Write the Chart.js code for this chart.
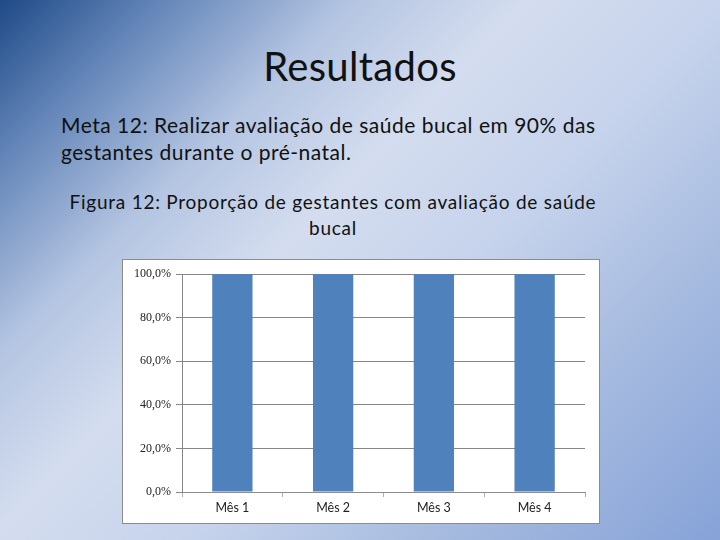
<!DOCTYPE html>
<html>
<head>
<meta charset="utf-8">
<script src="https://cdn.jsdelivr.net/npm/chart.js@4"></script>
<style>
  html, body { margin: 0; padding: 0; }
  body {
    width: 720px; height: 540px; position: relative; overflow: hidden;
    font-family: Lato, "Open Sans", sans-serif; color: #111;
    background: linear-gradient(135deg, #1f4a86 0%, #5f82b6 12%, #b4c5e2 28%, #d4ddef 42%, #c6d3ec 58%, #a5badf 78%, #86a2d8 100%);
  }
  #title { position: absolute; top: 42px; left: 0; width: 720px; text-align: center; font-size: 40px; letter-spacing: 0.3px; }
  #meta { position: absolute; top: 111px; left: 61px; font-size: 21px; line-height: 27px; letter-spacing: 0.5px; }
  #fig { position: absolute; top: 189px; left: 40px; width: 586px; text-align: center; font-size: 19px; line-height: 26px; letter-spacing: 0.75px; }
  #box { position: absolute; left: 122px; top: 259px; width: 478px; height: 265px; box-sizing: border-box;
         border: 1px solid #8c8c8c; background: #fff; }
</style>
</head>
<body>
<div id="title">Resultados</div>
<div id="meta">Meta 12: Realizar avaliação de saúde bucal em 90% das<br>gestantes durante o pré-natal.</div>
<div id="fig">Figura 12: Proporção de gestantes com avaliação de saúde<br>bucal</div>
<div id="box"><canvas id="chart" width="476" height="263"></canvas></div>
<script>
const categories = ['Mês 1', 'Mês 2', 'Mês 3', 'Mês 4'];
const values = [100, 100, 100, 100];
const yTicks = [0, 20, 40, 60, 80, 100];

const ctx = document.getElementById('chart').getContext('2d');
new Chart(ctx, {
  type: 'bar',
  data: {
    labels: categories,
    datasets: [{
      data: values,
      backgroundColor: '#4f81bd',
      barPercentage: 0.4,
      categoryPercentage: 1
    }]
  },
  options: {
    responsive: false,
    animation: false,
    layout: { padding: { top: 14, right: 14, left: 0, bottom: 0 } },
    plugins: { legend: { display: false }, tooltip: { enabled: false } },
    scales: {
      x: {
        grid: { offset: true, drawOnChartArea: false, color: '#b0b0b0', tickLength: 5 },
        border: { color: '#8c8c8c' },
        ticks: { color: '#222', font: { family: 'Lato', size: 12.5 }, padding: 3 },
        afterFit: s => { s.height = 31; }
      },
      y: {
        min: yTicks[0],
        max: yTicks[yTicks.length - 1],
        afterBuildTicks: s => { s.ticks = yTicks.map(v => ({ value: v })); },
        grid: { color: '#868686', tickLength: 6 },
        border: { color: '#868686' },
        ticks: {
          color: '#222', font: { family: 'Liberation Serif', size: 12 }, padding: 5,
          callback: v => v.toFixed(1).replace('.', ',') + '%'
        },
        afterFit: s => { s.width = 59; }
      }
    }
  }
});
</script>
</body>
</html>
